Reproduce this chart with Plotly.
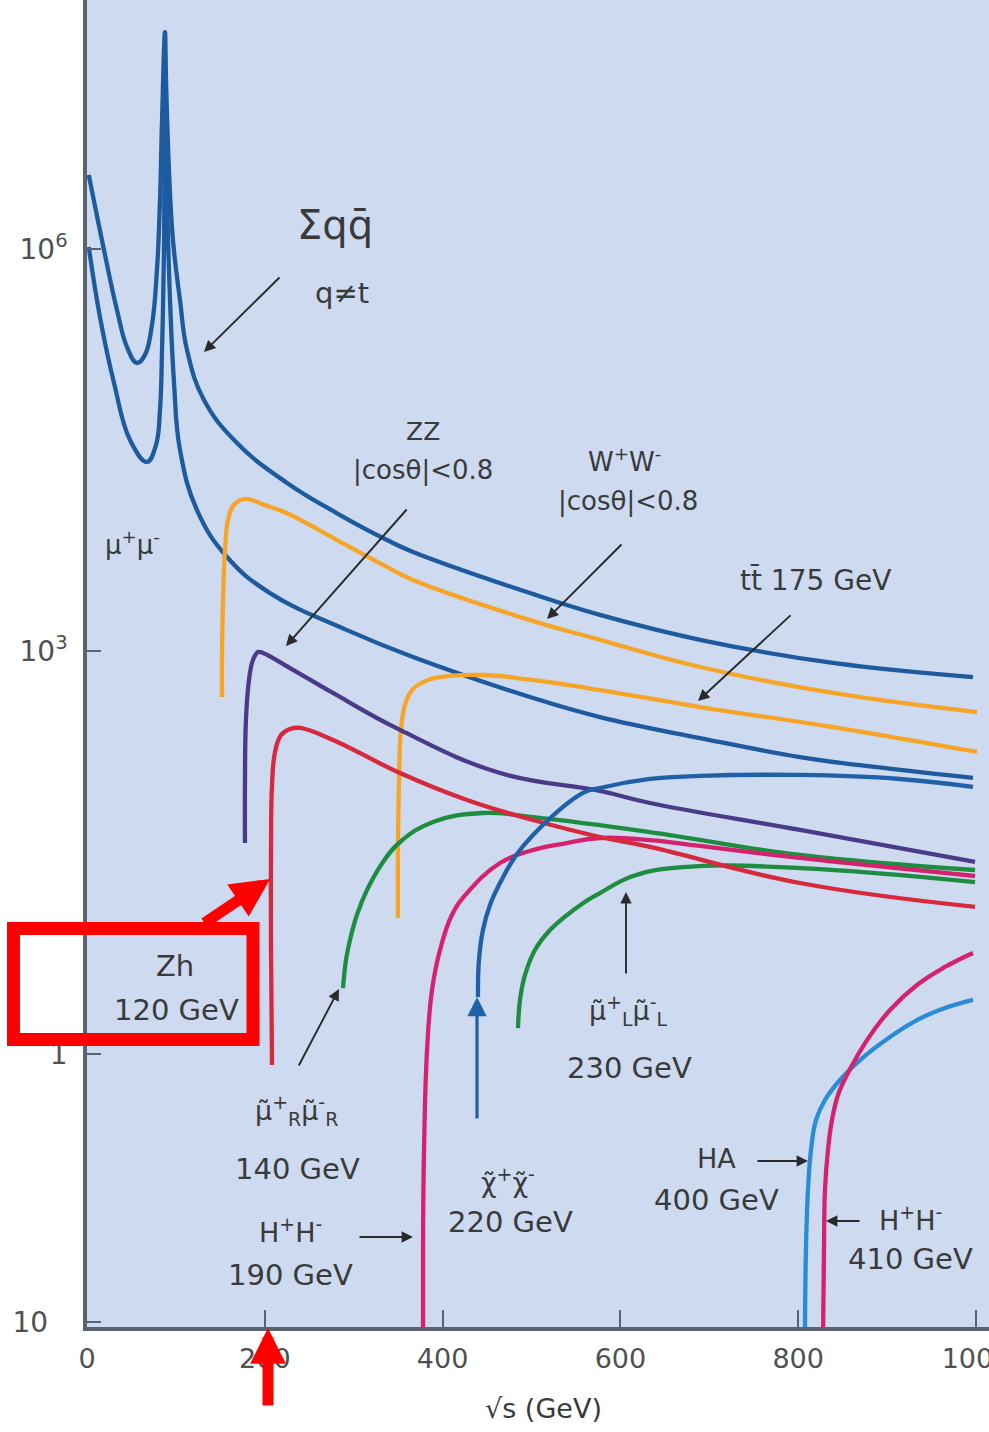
import plotly.graph_objects as go

# ---------------- data (sqrt(s) in GeV, cross-section) ----------------
qq_x = [2, 19.1, 33.7, 45.0, 56.2, 65.2, 73.1, 78.7, 82.1, 84.4, 87.7, 88.9, 92.2, 96.7,
        104.6, 112.5, 131.6, 168.7, 225.0, 281.2, 337.5, 366.7, 498.3, 577.0, 689.5, 839.1, 996.6]
qq_y = [3.55e6, 9.8e5, 3.5e5, 1.85e5, 1.41e5, 1.62e5, 2.71e5, 6.95e5, 2.31e6, 9.12e6, 4.12e7,
        1.81e7, 3.87e6, 1.16e6, 4.15e5, 1.76e5, 7.47e4, 3.57e4, 1.80e4, 1.07e4, 6.76e3, 5.51e3,
        2.72e3, 1.87e3, 1.22e3, 820, 644]

mumu_x = [2, 14.6, 30.4, 48.4, 67.5, 77.6, 82.1, 84.4, 86.6, 87.7, 90.0, 93.4, 97.9, 104.6,
          123.7, 157.5, 205.8, 292.5, 366.7, 498.3, 577.0, 689.5, 802.0, 869.5, 996.6]
mumu_y = [1.03e6, 3.10e5, 1.0e5, 3.76e4, 2.58e4, 3.45e4, 6.29e4, 1.76e5, 9.8e5, 1.08e7, 2.31e6,
          4.15e5, 1.0e5, 3.17e4, 1.13e4, 5.05e3, 2.72e3, 1.44e3, 908, 457, 324, 226, 163, 142, 114]

ww_x = [151.9, 151.9, 153.0, 155.2, 158.6, 164.2, 172.1, 180.0, 200.2, 225.0, 281.2, 337.5,
        366.7, 498.3, 577.0, 689.5, 839.1, 1001.1]
ww_y = [457, 1020, 2420, 5700, 9530, 1.21e4, 1.34e4, 1.37e4, 1.23e4, 1.07e4, 6.76e3, 4.26e3,
        3.40e3, 1.71e3, 1.22e3, 765, 490, 353]

tt_x = [349.8, 349.8, 351.0, 353.2, 357.7, 365.6, 380.2, 397.1, 445.4, 498.3, 577.0,
        689.5, 839.1, 1001.1]
tt_y = [10.3, 33.1, 110, 260, 399, 515, 601, 644, 667, 615, 515, 385, 273, 178]

zz_x = [177.7, 177.7, 178.8, 182.2, 186.7, 192.4, 198.0, 228.3, 276.7, 352.1, 464.6, 577.0, 633.3, 802.0, 998.9]
zz_y = [37.3, 110, 308, 612, 863, 989, 973, 752, 490, 260, 124, 91.2, 74.2, 46.7, 27.0]

zh_x = [208.1, 207.0, 207.0, 208.1, 211.5, 218.2, 228.3, 239.6, 276.7, 352.1, 427.4, 501.7,
        577.0, 633.3, 802.0, 998.9]
zh_y = [0.828, 5.96, 33.1, 101, 178, 238, 264, 269, 219, 124, 78.1, 55.4, 41.4, 34.9, 18.8, 12.5]

smuR_x = [288.0, 291.3, 295.8, 303.7, 315.0, 333.0, 352.1, 389.2, 445.4, 501.7, 633.3, 802.0, 998.9]
smuR_y = [3.10, 5.02, 7.07, 10.9, 16.7, 27.0, 38.0, 53.6, 62.5, 58.3, 45.1, 30.4, 23.5]

smuL_x = [484.8, 487.1, 492.7, 503.9, 520.8, 557.9, 577.0, 614.2, 670.4, 802.0, 998.9]
smuL_y = [1.56, 2.53, 3.88, 5.96, 8.40, 13.3, 15.8, 21.2, 24.7, 24.3, 19.1]

hpm190_x = [378.0, 378.0, 379.1, 382.5, 388.1, 397.1, 410.6, 427.4, 464.6, 501.7, 539.9, 577.0,
            633.3, 689.5, 802.0, 998.9]
hpm190_y = [0.0074, 0.0346, 0.193, 1.07, 3.00, 5.96, 10.9, 15.8, 26.5, 33.1, 37.3, 40.7, 39.3,
            35.5, 28.9, 21.2]

chi_x = [439.8, 440.9, 445.4, 453.3, 464.6, 481.4, 501.7, 557.9, 577.0, 633.3, 689.5, 802.0, 914.5, 996.6]
chi_y = [2.66, 5.02, 8.40, 12.9, 18.8, 29.4, 42.9, 88.1, 96.0, 112, 118, 120, 112, 97.7]

ha_x = [807.6, 808.7, 811.0, 814.4, 820.0, 830.1, 847.0, 869.5, 903.3, 933.6, 965.1, 996.6]
ha_y = [0.0074, 0.0346, 0.097, 0.193, 0.322, 0.454, 0.640, 0.902, 1.34, 1.79, 2.20, 2.53]

hpm410_x = [827.9, 829.0, 830.1, 833.5, 838.0, 844.8, 856.0, 877.4, 903.3, 933.6, 965.1, 996.6]
hpm410_y = [0.0074, 0.0346, 0.097, 0.193, 0.322, 0.495, 0.722, 1.27, 2.13, 3.27, 4.45, 5.66]

x_ticks = [0, 200, 400, 600, 800, 1000]
x_ticktext = ["0", "200", "400", "600", "800", "1000"]
y_ticks = [1e-2, 1, 1e3, 1e6]
y_ticktext = ["10<span style='color:rgba(0,0,0,0)'><sup>-2</sup></span>", "1",
              "10<sup>3</sup>", "10<sup>6</sup>"]

# ---------------- style ----------------
DARKBLUE = "#1d5a9e"
ORANGE = "#f6a526"
PURPLE = "#4a3b88"
RED = "#d8283c"
PINK = "#d6226c"
GREEN = "#1f8d40"
LIGHTBLUE = "#2b8cd6"
CHIBLUE = "#1f61a8"
TXT = "#3a3a3a"
FONT = "DejaVu Sans"

W, H = 989, 1432
L, B = 87, 105
PW, PH = W - L, H - B
XSCALE = 0.889      # px per GeV
YDEC = 134.2        # px per decade
Y_ONE = 1054        # pixel row of sigma = 1

curves = [
    (mumu_x, mumu_y, DARKBLUE),
    (qq_x, qq_y, DARKBLUE),
    (ww_x, ww_y, ORANGE),
    (tt_x, tt_y, ORANGE),
    (zz_x, zz_y, PURPLE),
    (smuR_x, smuR_y, GREEN),
    (smuL_x, smuL_y, GREEN),
    (hpm190_x, hpm190_y, PINK),
    (zh_x, zh_y, RED),
    (chi_x, chi_y, CHIBLUE),
    (ha_x, ha_y, LIGHTBLUE),
    (hpm410_x, hpm410_y, PINK),
]

fig = go.Figure()
for xs, ys, col in curves:
    fig.add_trace(go.Scatter(x=xs, y=ys, mode="lines",
                             line=dict(color=col, width=4.3, shape="spline", smoothing=1.2),
                             showlegend=False, hoverinfo="skip"))


def px(xp):
    return (xp - L) / PW


def py(yp):
    return (PH - yp) / PH


annotations = []
labels = [
    ("Σqq̄", 335, 225, 40),
    ("q≠t", 342, 293, 29),
    ("μ<sup>+</sup>μ<sup>-</sup>", 132, 543, 26),
    ("ZZ", 423, 431, 25),
    ("|cosθ|<0.8", 423, 470, 26),
    ("W<sup>+</sup>W<sup>-</sup>", 624, 460, 26),
    ("|cosθ|<0.8", 628, 501, 26),
    ("tt̄ 175 GeV", 815, 580, 28),
    ("Zh", 175, 966, 29),
    ("120 GeV", 176, 1010, 29),
    ("μ̃<sup>+</sup><sub>R</sub>μ̃<sup>-</sup><sub>R</sub>", 296, 1110, 27),
    ("140 GeV", 297, 1169, 29),
    ("H<sup>+</sup>H<sup>-</sup>", 290, 1230, 27),
    ("190 GeV", 290, 1275, 29),
    ("χ̃<sup>+</sup>χ̃<sup>-</sup>", 508, 1180, 27),
    ("220 GeV", 510, 1222, 29),
    ("μ̃<sup>+</sup><sub>L</sub>μ̃<sup>-</sup><sub>L</sub>", 628, 1010, 27),
    ("230 GeV", 629, 1068, 29),
    ("HA", 716, 1158, 27),
    ("400 GeV", 716, 1200, 29),
    ("H<sup>+</sup>H<sup>-</sup>", 910, 1218, 27),
    ("410 GeV", 910, 1259, 29),
    ("√s (GeV)", 543, 1408, 27),
]
for t, xp, yp, sz in labels:
    annotations.append(dict(text=t, x=px(xp), y=py(yp), xref="paper", yref="paper",
                            showarrow=False, xanchor="center", yanchor="middle",
                            font=dict(family=FONT, size=sz, color=TXT)))

# black pointer arrows: (tip_x, tip_y, tail_x, tail_y)
arrows = [
    (204, 352, 281, 276),
    (286, 646, 408, 508),
    (547, 619, 623, 543),
    (698, 701, 792, 614),
    (339, 989, 298, 1067),
    (413, 1237, 358, 1237),
    (626, 892, 626, 975),
    (808, 1161, 756, 1161),
    (826, 1221, 861, 1221),
]
for tx, ty, sx, sy in arrows:
    annotations.append(dict(text="", x=px(tx), y=py(ty), xref="paper", yref="paper",
                            ax=sx - tx, ay=sy - ty, axref="pixel", ayref="pixel",
                            showarrow=True, arrowhead=2, arrowsize=1.2, arrowwidth=1.9,
                            arrowcolor="#2a2a2a"))

# blue arrow under the chargino curve
annotations.append(dict(text="", x=px(477), y=py(997), xref="paper", yref="paper",
                        ax=0, ay=123, axref="pixel", ayref="pixel", showarrow=True,
                        arrowhead=2, arrowsize=1.2, arrowwidth=3.2, arrowcolor=CHIBLUE))

# red highlight arrows
annotations.append(dict(text="", x=px(270), y=py(879), xref="paper", yref="paper",
                        ax=203 - 270, ay=924 - 879, axref="pixel", ayref="pixel",
                        showarrow=True, arrowhead=2, arrowsize=0.7, arrowwidth=11,
                        arrowcolor="#ff0000"))
annotations.append(dict(text="", x=px(268), y=py(1328), xref="paper", yref="paper",
                        ax=0, ay=79, axref="pixel", ayref="pixel",
                        showarrow=True, arrowhead=2, arrowsize=0.65, arrowwidth=11,
                        arrowcolor="#ff0000"))

shapes = [dict(type="rect", xref="paper", yref="paper", x0=px(13.5), x1=px(253),
               y0=py(1039.5), y1=py(928.5), line=dict(color="#ff0000", width=13),
               fillcolor="rgba(0,0,0,0)", layer="above")]

AXCOL = "#5b6270"
fig.update_layout(
    width=W, height=H,
    margin=dict(l=L, r=0, t=0, b=B, pad=0, autoexpand=False),
    paper_bgcolor="white",
    plot_bgcolor="#cddaf0",
    annotations=annotations,
    shapes=shapes,
    xaxis=dict(range=[0, PW / XSCALE], showline=True, linecolor=AXCOL, linewidth=3.5,
               ticks="inside", ticklen=17, tickwidth=2, tickcolor=AXCOL,
               tickvals=x_ticks, ticktext=x_ticktext, ticklabelstandoff=5,
               ticklabeloverflow="allow", automargin=False,
               tickfont=dict(family=FONT, size=27, color="#505050"),
               showgrid=False, zeroline=False),
    yaxis=dict(type="log", range=[(Y_ONE - PH) / YDEC, Y_ONE / YDEC], showline=True,
               linecolor=AXCOL, linewidth=3.5, ticks="inside", ticklen=14, tickwidth=2,
               tickcolor=AXCOL, tickvals=y_ticks, ticktext=y_ticktext,
               ticklabelstandoff=10, automargin=False,
               tickfont=dict(family=FONT, size=28, color="#505050"),
               showgrid=False, zeroline=False),
)

fig.write_html("out.html")
